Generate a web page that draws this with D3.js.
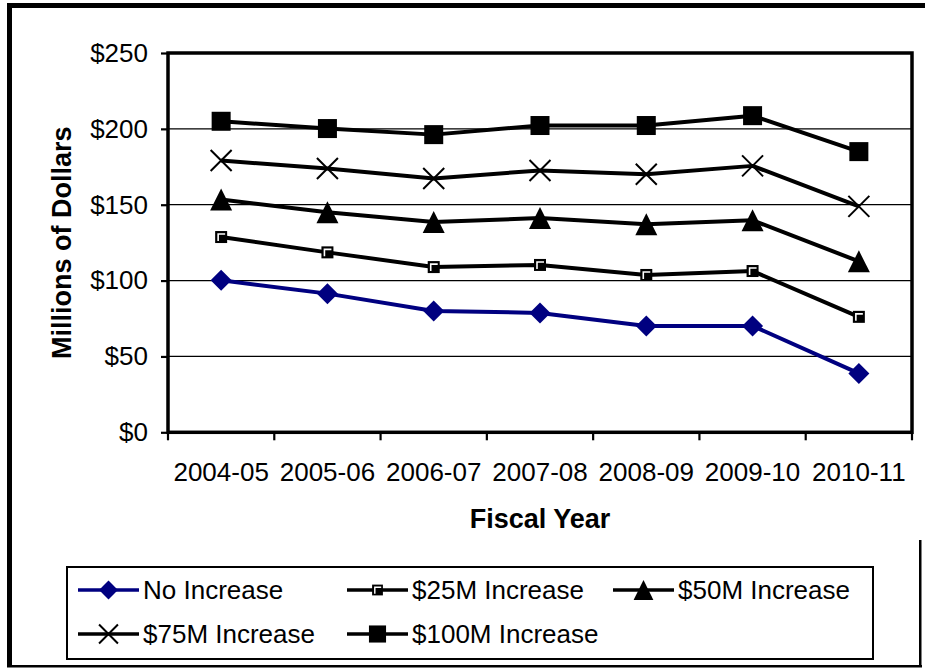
<!DOCTYPE html>
<html>
<head>
<meta charset="utf-8">
<script src="https://cdn.jsdelivr.net/npm/d3@7"></script>
<style>
  html, body { margin: 0; padding: 0; background: #fff; }
  svg { display: block; }
  text { font-family: "Liberation Sans", Arial, sans-serif; fill: #000; }
</style>
</head>
<body>
<svg id="chart" width="925" height="670"></svg>
<script>
// Fiscal years on the horizontal axis
const categories = ["2004-05", "2005-06", "2006-07", "2007-08", "2008-09", "2009-10", "2010-11"];

// Values in millions of dollars, one array per scenario
const noIncrease   = [100.2, 91.4, 80.0, 78.7, 70.1, 70.1, 38.8];
const inc25M       = [128.7, 118.6, 108.9, 110.3, 103.7, 106.3, 76.1];
const inc50M       = [153.4, 145.1, 138.6, 141.2, 137.2, 139.7, 112.7];
const inc75M       = [179.1, 173.9, 167.3, 172.6, 170.1, 175.6, 148.9];
const inc100M      = [205.0, 200.2, 196.2, 202.2, 202.2, 208.7, 185.0];

const seriesNames  = ["No Increase", "$25M Increase", "$50M Increase", "$75M Increase", "$100M Increase"];
const yTickValues  = [0, 50, 100, 150, 200, 250];
const yTickLabels  = ["$0", "$50", "$100", "$150", "$200", "$250"];

const series = [
  { name: seriesNames[0], values: noIncrease, color: "#000080", marker: "diamond" },
  { name: seriesNames[1], values: inc25M,     color: "#000000", marker: "smallsquare" },
  { name: seriesNames[2], values: inc50M,     color: "#000000", marker: "triangle" },
  { name: seriesNames[3], values: inc75M,     color: "#000000", marker: "cross" },
  { name: seriesNames[4], values: inc100M,    color: "#000000", marker: "square" }
];

const svg = d3.select("#chart");

// Outer frame
svg.append("rect").attr("x", 7).attr("y", 3).attr("width", 918).attr("height", 5).attr("fill", "#000");
svg.append("rect").attr("x", 7).attr("y", 3).attr("width", 5).attr("height", 664).attr("fill", "#000");
svg.append("rect").attr("x", 7).attr("y", 665).attr("width", 915).attr("height", 2.5).attr("fill", "#000");
svg.append("rect").attr("x", 919).attr("y", 540).attr("width", 2.5).attr("height", 127).attr("fill", "#000");

// Plot area
const plot = { left: 168, right: 912, top: 53, bottom: 432.3 };
const x = d3.scaleBand().domain(categories).range([plot.left, plot.right]).padding(0);
const y = d3.scaleLinear().domain([0, 250]).range([plot.bottom, plot.top]);
const cx = d => x(d) + x.bandwidth() / 2;

// Gridlines
svg.append("g").selectAll("line")
  .data(yTickValues.filter(v => v > 0 && v < 250))
  .join("line")
  .attr("x1", plot.left).attr("x2", plot.right)
  .attr("y1", d => y(d)).attr("y2", d => y(d))
  .attr("stroke", "#000").attr("stroke-width", 1.2);

// Y axis ticks and labels
const yAxis = d3.axisLeft(y)
  .tickValues(yTickValues)
  .tickSize(7)
  .tickPadding(13)
  .tickFormat((d, i) => yTickLabels[i]);
const gy = svg.append("g").attr("transform", `translate(${plot.left},0)`).call(yAxis);
gy.select(".domain").remove();
gy.selectAll(".tick line").attr("stroke", "#000").attr("stroke-width", 2.2);
gy.selectAll(".tick text")
  .style("font-family", '"Liberation Sans", Arial, sans-serif')
  .style("font-size", "26px").attr("fill", "#000");

// X axis: ticks on category boundaries, labels centred in each band
const boundaries = categories.map(c => x(c)).concat([plot.right]);
svg.append("g").selectAll("line")
  .data(boundaries)
  .join("line")
  .attr("x1", d => d).attr("x2", d => d)
  .attr("y1", plot.bottom).attr("y2", plot.bottom + 8)
  .attr("stroke", "#000").attr("stroke-width", 2.2);

const xAxis = d3.axisBottom(x).tickSize(0).tickPadding(30);
const gx = svg.append("g").attr("transform", `translate(0,${plot.bottom})`).call(xAxis);
gx.select(".domain").remove();
gx.selectAll(".tick text")
  .style("font-family", '"Liberation Sans", Arial, sans-serif')
  .style("font-size", "26px").attr("fill", "#000");

// Plot frame
svg.append("rect")
  .attr("x", plot.left).attr("y", plot.top)
  .attr("width", plot.right - plot.left).attr("height", plot.bottom - plot.top)
  .attr("fill", "none").attr("stroke", "#000").attr("stroke-width", 3.5);

// Axis titles
svg.append("text")
  .attr("x", (plot.left + plot.right) / 2).attr("y", 528)
  .attr("text-anchor", "middle")
  .style("font-size", "27px").style("font-weight", "bold")
  .text("Fiscal Year");

svg.append("text")
  .attr("transform", `translate(71,${(plot.top + plot.bottom) / 2}) rotate(-90)`)
  .attr("text-anchor", "middle")
  .style("font-size", "27px").style("font-weight", "bold")
  .text("Millions of Dollars");

// Marker drawing
function drawMarker(g, type, color, s) {
  if (type === "diamond") {
    const h = 10.5 * s;
    g.append("path").attr("d", `M0,${-h}L${h},0L0,${h}L${-h},0Z`).attr("fill", color);
  } else if (type === "smallsquare") {
    const h = 6 * s;
    g.append("rect").attr("x", -h).attr("y", -h).attr("width", 2 * h).attr("height", 2 * h).attr("fill", "#000");
    const k = 3 * s;
    g.append("path").attr("d", `M${-k},${k + 1}V${-k}H${k + 1}`)
      .attr("fill", "none").attr("stroke", "#fff").attr("stroke-width", 1.6 * s);
  } else if (type === "triangle") {
    const h = 11 * s;
    g.append("path").attr("d", `M0,${-h}L${h},${h}L${-h},${h}Z`).attr("fill", color);
  } else if (type === "cross") {
    const h = 10.5 * s;
    g.append("path").attr("d", `M${-h},${-h}L${h},${h}M${-h},${h}L${h},${-h}`)
      .attr("stroke", color).attr("stroke-width", 2);
  } else if (type === "square") {
    const h = 9.5 * s;
    g.append("rect").attr("x", -h).attr("y", -h).attr("width", 2 * h).attr("height", 2 * h).attr("fill", color);
  }
}

// Series lines and markers
const line = d3.line().x((d, i) => cx(categories[i])).y(d => y(d));
series.forEach(s => {
  svg.append("path")
    .datum(s.values)
    .attr("d", line)
    .attr("fill", "none")
    .attr("stroke", s.color)
    .attr("stroke-width", 4)
    .attr("stroke-linejoin", "round");
  s.values.forEach((v, i) => {
    const g = svg.append("g").attr("transform", `translate(${cx(categories[i])},${y(v)})`);
    drawMarker(g, s.marker, s.color, 1);
  });
});

// Legend
svg.append("rect")
  .attr("x", 67).attr("y", 567).attr("width", 806).attr("height", 92)
  .attr("fill", "#fff").attr("stroke", "#000").attr("stroke-width", 2);

const legendPos = [
  { x: 78, y: 590 }, { x: 347, y: 590 }, { x: 613, y: 590 },
  { x: 78, y: 634 }, { x: 347, y: 634 }
];
series.forEach((s, i) => {
  const p = legendPos[i];
  const g = svg.append("g").attr("transform", `translate(${p.x},${p.y})`);
  g.append("line").attr("x1", 0).attr("x2", 61).attr("y1", 0).attr("y2", 0)
    .attr("stroke", s.color).attr("stroke-width", 3.5);
  const m = g.append("g").attr("transform", "translate(30.5,0)");
  drawMarker(m, s.marker, s.color, 0.9);
  g.append("text").attr("x", 65).attr("y", 0).attr("dy", "0.35em")
    .style("font-size", "26px").text(s.name);
});
</script>
</body>
</html>
